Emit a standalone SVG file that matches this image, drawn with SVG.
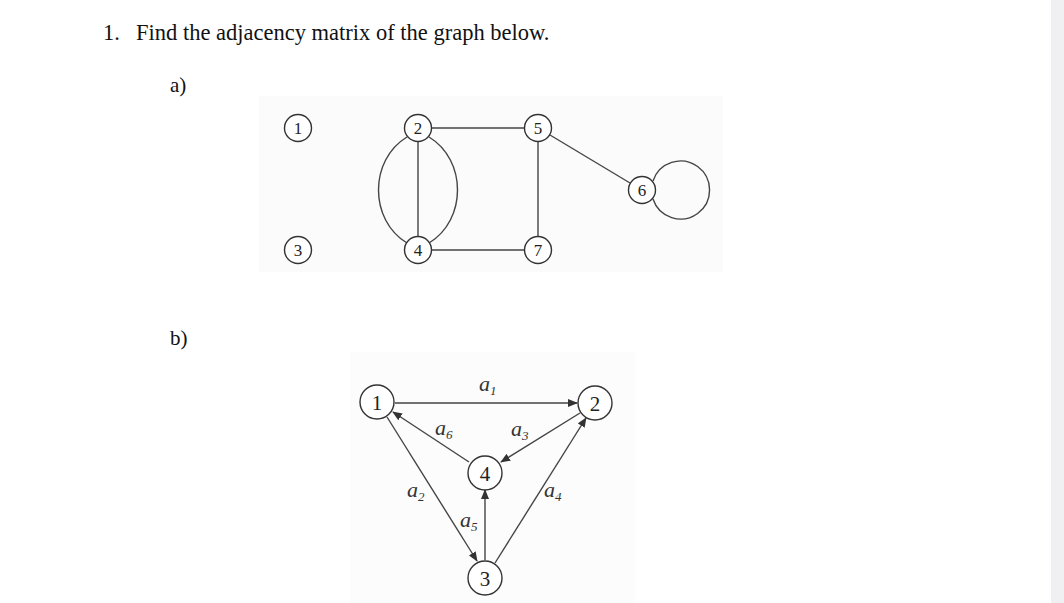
<svg xmlns="http://www.w3.org/2000/svg" width="1064" height="603" viewBox="0 0 1064 603">
<style>
.t{font-family:"Liberation Serif","Times New Roman",serif;fill:#111}
.n{fill:#fff;stroke:#333;stroke-width:1.4}
.nl{font-family:"Liberation Serif","Times New Roman",serif;fill:#222;text-anchor:middle}
.e{fill:none;stroke:#444;stroke-width:1.4}
.lab{font-family:"Liberation Serif","Times New Roman",serif;font-style:italic;fill:#333;font-size:22px}
.sub{font-size:13px}
</style>
<defs>
<marker id="ah" markerWidth="10" markerHeight="8" refX="9" refY="4" orient="auto" markerUnits="userSpaceOnUse">
<path d="M0,0 L10,4 L0,8 Z" fill="#333"/>
</marker>
</defs>
<rect width="1064" height="603" fill="#fff"/>
<rect x="1051" y="0" width="13" height="603" fill="#f0f0f2"/>
<rect x="259" y="96" width="464" height="176" fill="#fbfbfb"/>
<rect x="350" y="352" width="285" height="251" fill="#fcfcfc"/>
<text class="t" x="103" y="40" font-size="22.5">1.</text>
<text class="t" x="136" y="40" font-size="22.5">Find the adjacency matrix of the graph below.</text>
<text class="t" x="170" y="92" font-size="21">a)</text>
<text class="t" x="170" y="345" font-size="21">b)</text>

<g id="edges-a">
<line class="e" x1="432" y1="128" x2="524" y2="128"/>
<line class="e" x1="418" y1="142" x2="418" y2="236"/>
<path class="e" d="M407,137 C369,160 369,220 407,243"/>
<path class="e" d="M429,137 C467,160 467,220 429,243"/>
<line class="e" x1="538" y1="142" x2="538" y2="236"/>
<line class="e" x1="432" y1="250" x2="524" y2="250"/>
<line class="e" x1="550" y1="135" x2="630" y2="183"/>
<path class="e" d="M653,181 A29,29 0 1 1 653,199"/>
</g>
<g id="a1"><circle class="n" cx="298" cy="128" r="13.5"/><text class="nl" x="298" y="134" font-size="17">1</text></g>
<g id="a2"><circle class="n" cx="418" cy="128" r="13.5"/><text class="nl" x="418" y="134" font-size="17">2</text></g>
<g id="a5"><circle class="n" cx="538" cy="128" r="13.5"/><text class="nl" x="538" y="134" font-size="17">5</text></g>
<g id="a6"><circle class="n" cx="642" cy="190" r="13.5"/><text class="nl" x="642" y="196" font-size="17">6</text></g>
<g id="a3"><circle class="n" cx="298" cy="250" r="13.5"/><text class="nl" x="298" y="256" font-size="17">3</text></g>
<g id="a4"><circle class="n" cx="418" cy="250" r="13.5"/><text class="nl" x="418" y="256" font-size="17">4</text></g>
<g id="a7"><circle class="n" cx="538" cy="250" r="13.5"/><text class="nl" x="538" y="256" font-size="17">7</text></g>

<g id="edges-b">
<line class="e" x1="395" y1="403" x2="577" y2="403" marker-end="url(#ah)"/>
<line class="e" x1="469" y1="462" x2="393" y2="412" marker-end="url(#ah)"/>
<line class="e" x1="580" y1="413" x2="501" y2="462" marker-end="url(#ah)"/>
<line class="e" x1="387" y1="417" x2="477" y2="561" marker-end="url(#ah)"/>
<line class="e" x1="485" y1="560" x2="485" y2="490" marker-end="url(#ah)"/>
<line class="e" x1="495" y1="563" x2="586" y2="418" marker-end="url(#ah)"/>
<text class="lab" x="479" y="391">a<tspan class="sub" dy="4">1</tspan></text>
<text class="lab" x="435" y="435">a<tspan class="sub" dy="4">6</tspan></text>
<text class="lab" x="511" y="436">a<tspan class="sub" dy="4">3</tspan></text>
<text class="lab" x="407" y="497">a<tspan class="sub" dy="4">2</tspan></text>
<text class="lab" x="544" y="497">a<tspan class="sub" dy="4">4</tspan></text>
<text class="lab" x="460" y="527">a<tspan class="sub" dy="4">5</tspan></text>
</g>
<g id="b1"><circle class="n" cx="377" cy="402" r="17"/><text class="nl" x="377" y="409.5" font-size="21">1</text></g>
<g id="b2"><circle class="n" cx="595" cy="403" r="17"/><text class="nl" x="595" y="410.5" font-size="21">2</text></g>
<g id="b4"><circle class="n" cx="485" cy="473" r="17"/><text class="nl" x="485" y="480.5" font-size="21">4</text></g>
<g id="b3"><circle class="n" cx="485" cy="578" r="17"/><text class="nl" x="485" y="585.5" font-size="21">3</text></g>
</svg>
